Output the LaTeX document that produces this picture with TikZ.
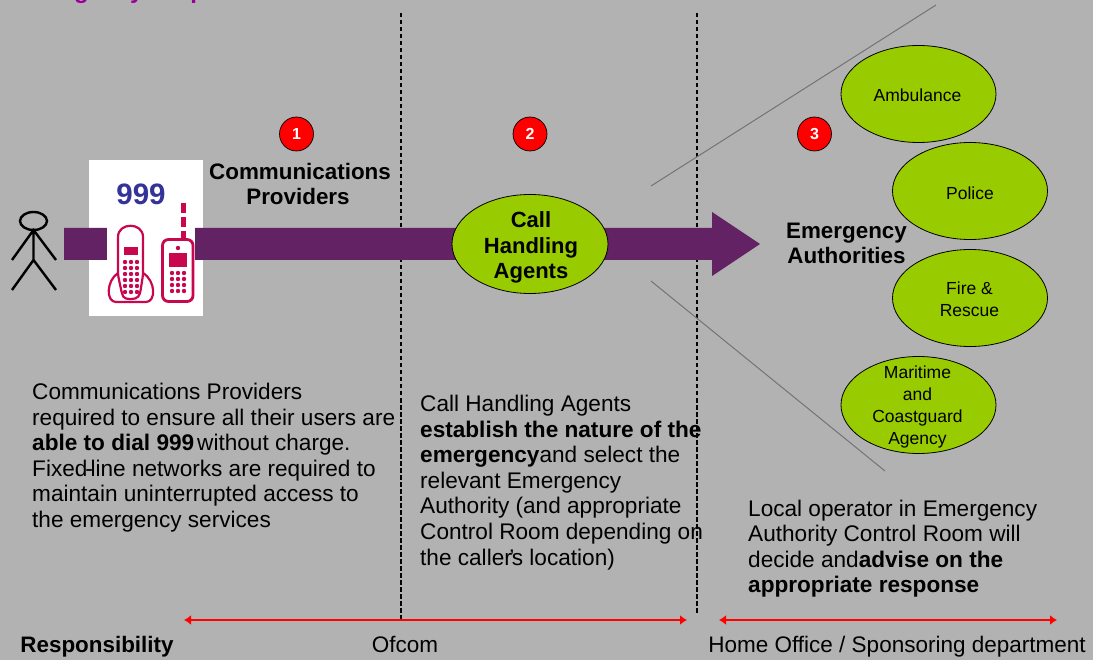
\documentclass[tikz,border=0pt]{standalone}
\usepackage{fontspec}
\setmainfont{Liberation Sans}
\usetikzlibrary{shapes.geometric,arrows.meta}
\definecolor{bggrey}{HTML}{B2B2B2}
\definecolor{shaft}{HTML}{632264}
\definecolor{leaf}{HTML}{99CC00}
\definecolor{phone}{HTML}{C9074F}
\definecolor{nineblue}{HTML}{333399}
\definecolor{titlepurple}{HTML}{990099}
\newcommand{\fs}[2]{\fontsize{#1}{#2}\selectfont}
\tikzset{
  x=1pt,y=-1pt,
  agency/.style={ellipse,draw=black,line width=0.8pt,fill=leaf,minimum width=155pt,minimum height=97pt,inner sep=0pt},
  agencytext/.style={inner sep=0pt,align=center,font=\fs{17.5}{22}},
  badge/.style={circle,draw=black,line width=0.7pt,fill=red,minimum size=34pt,inner sep=0pt,text=white,font=\fs{16}{18}\bfseries},
  heading/.style={align=center,inner sep=0pt,font=\fs{22.4}{25.8}\bfseries},
  para/.style={align=left,anchor=north west,inner sep=0pt,font=\fs{22.6}{25.6}},
  foot/.style={inner sep=0pt,anchor=base,font=\fs{22.5}{25}},
  divider/.style={black,line width=1.6pt,dash pattern=on 4.5pt off 2.5pt},
  ray/.style={draw=black!35!bggrey,line width=1pt},
  span/.style={red,line width=2.6pt,{Latex[length=7pt,width=10pt]}-{Latex[length=7pt,width=10pt]}},
  figureline/.style={black,line width=2.4pt},
  ph/.style={draw=phone,line width=2.2pt},
  phf/.style={fill=phone}
}
\begin{document}
\begin{tikzpicture}
\useasboundingbox (0,0) rectangle (1093,660);
\fill[bggrey] (0,0) rectangle (1093,660);
% title, cut off by the top edge
\node[anchor=base west,inner sep=0pt,text=titlepurple,font=\fs{24}{28}\bfseries] (title) at (14,-1) {Emergency\hspace{4pt} response};
% dividers
\coordinate (d1a) at (401,13); \coordinate (d1b) at (401,620);
\coordinate (d2a) at (697,13); \coordinate (d2b) at (697,615);
\draw[divider] (d1a) -- (d1b);
\draw[divider] (d2a) -- (d2b);
% rays
\coordinate (r1a) at (651,186); \coordinate (r1b) at (936,5);
\coordinate (r2a) at (651,281); \coordinate (r2b) at (885,471);
\draw[ray] (r1a) -- (r1b);
\draw[ray] (r2a) -- (r2b);
% white card and main arrow
\fill[white] (89,160) rectangle (203,316);
\fill[shaft] (64,228) -- (712,228) -- (712,212) -- (760,244) -- (712,276) -- (712,260) -- (64,260) -- cycle;
\fill[white] (107,226) rectangle (195,262);
\node[inner sep=0pt,text=nineblue,font=\fs{29.5}{30}\bfseries] (nine) at (141,194) {999};
% cordless phone
\draw[ph] (118,273) .. controls (106,281) and (106,302) .. (116,302) -- (146,302) .. controls (156,302) and (156,281) .. (143,273);
\draw[ph,rounded corners=3pt,fill=white] (118,275) -- (118,240) .. controls (118,222) and (143,222) .. (143,240) -- (143,275) -- (140,294) .. controls (136,300) and (125,300) .. (122,294) -- cycle;
\fill[phf] (124,247) rectangle (138,255);
\foreach \yy in {262,268,274,280,286,292}{\foreach \xx in {125,131,137}{\fill[phf] (\xx,\yy) circle (2.2pt);}}
% mobile phone
\draw[ph,line width=2.8pt,rounded corners=6pt] (162.5,239.5) rectangle (193,301.5);
\fill[phf] (169,253) rectangle (187,267);
\fill[phf] (178,248) circle (2.2pt);
\foreach \yy in {273,279,285,291}{\foreach \xx in {172,178,184}{\fill[phf] (\xx,\yy) circle (2.2pt);}}
\draw[phone,line width=4.6pt,dash pattern=on 9.5pt off 4.5pt] (183.5,203.5) -- (183.5,239);
% stick figure
\draw[figureline] (33.5,221) ellipse (13.5pt and 9pt);
\draw[figureline] (33.5,230) -- (33.5,260) (12,290) -- (33.5,260) -- (56,290) (12,260) -- (33.5,230) -- (56,260);
% headings
\node[heading] (cp) at (300,184) {Communications\\Providers\hspace*{4pt}};
\node[agency,minimum width=156pt,minimum height=99pt] (cha) at (530,244) {};
\node[heading,font=\fs{22}{25.6}\bfseries] (chat) at (531,247.5) {Call\\Handling\\Agents};
\node[heading] (ea) at (846.5,243.5) {Emergency\\Authorities};
% badges
\node[badge] (b1) at (296.5,134) {1};
\node[badge] (b2) at (530,134) {2};
\node[badge] (b3) at (814.5,134) {3};
% agencies
\node[agency] (amb) at (918.5,94) {};
\node[agencytext] at (917.5,95) (ambt) {Ambulance};
\node[agency] (pol) at (970,191) {};
\node[agencytext] at (970,193) (polt) {Police};
\node[agency] (fire) at (970,298) {};
\node[agencytext] at (969.5,299) (firet) {Fire \&\\Rescue};
\node[agency] (mar) at (918.5,405) {};
\node[agencytext] at (917.5,406.5) (mart) {Maritime\\and\\Coastguard\\Agency};
% paragraphs
\node[para] (p1) at (32,383) {Communications Providers\\required to ensure all their users are\\\textbf{able to dial 999}\hspace{3pt}without charge.\\Fixed\kern-2.2pt-\kern-2.2pt line networks are required to\\maintain uninterrupted access to\\the emergency services};
\node[para] (p2) at (420,395) {Call Handling Agents\\\textbf{establish the nature of the}\\\textbf{emergency}and select the\\relevant Emergency\\Authority (and appropriate\\Control Room depending on\\the caller\kern-2.5pt'\kern-2.5pt s location)};
\node[para] (p3) at (748,499.5) {Local operator in Emergency\\Authority Control Room will\\decide and\textbf{advise on the}\\\textbf{appropriate response}};
% responsibility spans
\coordinate (s1a) at (184,620); \coordinate (s1b) at (687,620);
\coordinate (s2a) at (719,620); \coordinate (s2b) at (1057,620);
\draw[span] (s1a) -- (s1b);
\draw[span] (s2a) -- (s2b);
\node[foot,font=\fs{22.4}{25}\bfseries] (resp) at (97,652) {Responsibility};
\node[foot] (ofc) at (405,652) {Ofcom};
\node[foot] (home) at (897,652) {Home Office / Sponsoring department};
\end{tikzpicture}
\end{document}
